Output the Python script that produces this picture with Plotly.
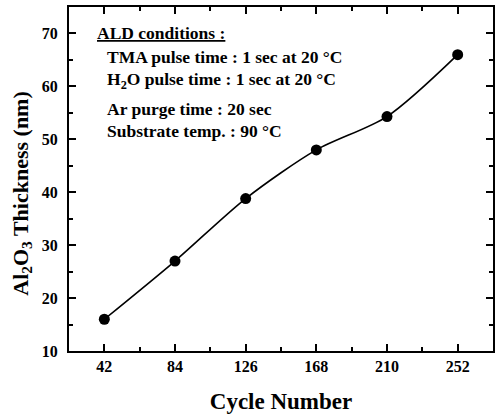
import plotly.graph_objects as go

cycles = [42, 84, 126, 168, 210, 252]
thickness = [16.0, 27.0, 38.8, 48.0, 54.3, 66.0]
x_ticks = [42, 84, 126, 168, 210, 252]
y_ticks = [10, 20, 30, 40, 50, 60, 70]
notes = [
    "<u>ALD conditions :</u>",
    "TMA pulse time : 1 sec at 20 °C",
    "H<sub>2</sub>O pulse time : 1 sec at 20 °C",
    "Ar purge time : 20 sec",
    "Substrate temp. : 90 °C",
]

W, H = 496, 417
L, R, T, B = 69, 1, 7, 66
pw, ph = W - L - R, H - T - B
FONT = "Liberation Serif"

fig = go.Figure()
fig.add_trace(go.Scatter(
    x=cycles, y=thickness, mode="lines+markers",
    line=dict(color="black", width=1.6, shape="spline", smoothing=0.8),
    marker=dict(color="black", size=11),
    showlegend=False,
))

axis_common = dict(
    showline=True, linecolor="black", linewidth=2, mirror="ticks",
    ticks="inside", ticklen=7, tickwidth=2, tickcolor="black",
    showgrid=False, zeroline=False,
    tickfont=dict(family=FONT, size=16, color="black"),
)

fig.update_xaxes(
    range=[21, 273], tickvals=x_ticks, ticktext=[f"<b>{v}</b>" for v in x_ticks],
    minor=dict(dtick=21, tick0=0, ticks="inside", ticklen=4, tickwidth=2, tickcolor="black"),
    title=dict(text="<b>Cycle Number</b>", font=dict(family=FONT, size=23, color="black"), standoff=19),
    **axis_common,
)
fig.update_yaxes(
    range=[10, 75], tickvals=y_ticks, ticktext=[f"<b>{v}</b>" for v in y_ticks],
    minor=dict(dtick=5, tick0=0, ticks="inside", ticklen=4, tickwidth=2, tickcolor="black"),
    ticklabelstandoff=6,
    **axis_common,
)

# y-axis title placed as rotated text (offset downward like the reference)
fig.add_annotation(
    text="<b>Al<sub>2</sub>O<sub>3</sub> Thickness (nm)</b>",
    xref="paper", yref="paper",
    x=(21 - L) / pw, y=(H - B - 193.5) / ph,
    xanchor="center", yanchor="middle", textangle=-90, showarrow=False,
    font=dict(family=FONT, size=22, color="black"),
)

pos = [(95, 33), (105, 57), (105, 80), (105, 109), (105, 131)]
for txt, (px, py) in zip(notes, pos):
    fig.add_annotation(
        text=f"<b>{txt}</b>", xref="paper", yref="paper",
        x=(px - L) / pw, y=(H - B - py) / ph,
        xanchor="left", yanchor="middle", showarrow=False,
        font=dict(family=FONT, size=17.5, color="black"),
    )

fig.update_layout(
    width=W, height=H,
    margin=dict(l=L, r=R, t=T, b=B),
    paper_bgcolor="white", plot_bgcolor="white",
)
fig.write_html("out.html")
